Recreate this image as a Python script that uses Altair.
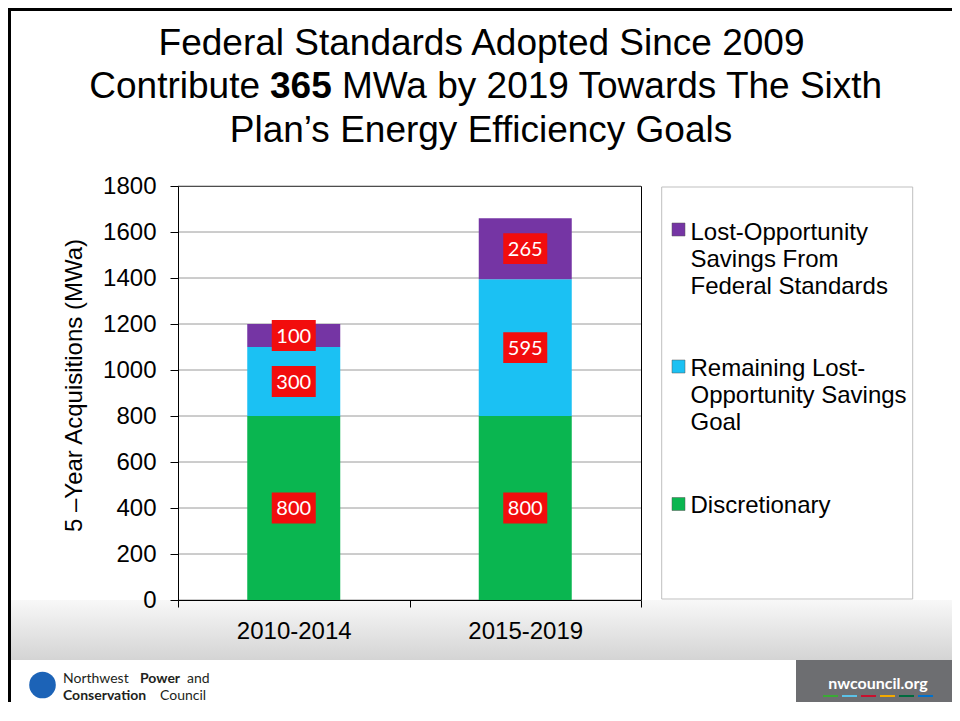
import altair as alt
import pandas as pd

# ---------------- data ----------------
PERIODS = ["2010-2014", "2015-2019"]
SERIES = [
    "Discretionary",
    "Remaining Lost-Opportunity Savings Goal",
    "Lost-Opportunity Savings From Federal Standards",
]
DISCRETIONARY = [800, 800]
REMAINING_LOST_OPP = [300, 595]
FEDERAL_STANDARDS = [100, 265]
SERIES_COLORS = ["#0ab650", "#1bc1f3", "#7535a4"]
Y_TICKS = list(range(0, 1801, 200))

# legend entries, top to bottom (series index, label lines)
LEGEND_ENTRIES = [
    (2, ["Lost-Opportunity", "Savings From", "Federal Standards"]),
    (1, ["Remaining Lost-", "Opportunity Savings", "Goal"]),
    (0, ["Discretionary"]),
]

TITLE_LINE1 = "Federal Standards Adopted Since 2009"
TITLE_LINE2 = ["Contribute", "365", "MWa by 2019 Towards The Sixth"]
TITLE_LINE3 = "Plan\u2019s Energy Efficiency Goals"
Y_TITLE = "5 \u2013Year  Acquisitions (MWa)"

FOOTER_DASH_COLORS = ["#3aaa35", "#5bc2e7", "#c8102e", "#f2a900", "#006b3f", "#0072ce"]

rows = []
for i, p in enumerate(PERIODS):
    for k, vals in enumerate([DISCRETIONARY, REMAINING_LOST_OPP, FEDERAL_STANDARDS]):
        rows.append({"period": p, "series": SERIES[k], "value": vals[i], "order": k})
df = pd.DataFrame(rows)
grid_df = pd.DataFrame({"tick": Y_TICKS})

AX_FONT = "Liberation Sans"
W, H = 463, 414
RIGHT = 774    # right edge of the whole canvas (relative to plot origin)
BOTTOM = 516   # bottom edge of the whole canvas (relative to plot origin)

# ---------------- helpers for decoration ----------------
one = pd.DataFrame({"k": [0]})


def rect(x, x2, y, y2, **kw):
    return alt.Chart(one).mark_rect(**kw).encode(
        x=alt.value(x), x2=alt.value(x2), y=alt.value(y), y2=alt.value(y2)
    )


def text(x, y, t, **kw):
    return alt.Chart(one).mark_text(**kw).encode(
        x=alt.value(x), y=alt.value(y), text=alt.value(t)
    )


# ---------------- main bars ----------------
x_enc = alt.X(
    "period:N",
    sort=PERIODS,
    scale=alt.Scale(paddingInner=0, paddingOuter=0),
    axis=alt.Axis(
        title=None,
        labelAngle=0,
        labelFont=AX_FONT,
        labelFontSize=24,
        labelColor="black",
        labelPadding=12,
        tickColor="black",
        tickSize=7,
        tickBand="extent",
        domainColor="black",
        grid=False,
        zindex=1,
    ),
)
y_scale = alt.Scale(domain=[0, 1800], nice=False)
y_axis = alt.Axis(
    values=Y_TICKS,
    format="d",
    labelFont=AX_FONT,
    labelFontSize=24,
    labelColor="black",
    labelPadding=14,
    tickColor="black",
    tickSize=8,
    domainColor="black",
    grid=False,
    zindex=1,
    titleFont=AX_FONT,
    titleFontSize=24,
    titleFontWeight="normal",
    titleColor="black",
    titleAngle=270,
    titleBaseline="bottom",
    titleAlign="center",
    titleX=-92,
    titleY=199,
)

gridlines = alt.Chart(grid_df).mark_rule(color="#9a9a9a", strokeWidth=1).encode(
    y=alt.Y("tick:Q", scale=y_scale, axis=y_axis, title=Y_TITLE)
)

bars = alt.Chart(df).mark_bar(size=93).encode(
    x=x_enc,
    y=alt.Y("value:Q", stack="zero", scale=y_scale, axis=y_axis, title=Y_TITLE),
    color=alt.Color(
        "series:N", scale=alt.Scale(domain=SERIES, range=SERIES_COLORS), legend=None
    ),
    order=alt.Order("order:Q", sort="ascending"),
)

lab_base = (
    alt.Chart(df)
    .transform_stack(
        stack="value",
        groupby=["period"],
        sort=[alt.SortField("order", "ascending")],
        as_=["v0", "v1"],
    )
    .transform_calculate(mid="(datum.v0 + datum.v1) / 2")
)
boxes = lab_base.mark_point(
    shape="M-1,-0.7L1,-0.7L1,0.7L-1,0.7Z",
    size=1936,
    filled=True,
    color="#f20d0d",
    opacity=1,
    strokeWidth=0,
).encode(
    x=alt.X("period:N", sort=PERIODS),
    y=alt.Y("mid:Q", title=Y_TITLE),
)
box_text = lab_base.mark_text(
    font="Lato", fontSize=20, color="white", baseline="middle", align="center", dy=1
).encode(
    x=alt.X("period:N", sort=PERIODS),
    y=alt.Y("mid:Q", title=Y_TITLE),
    text=alt.Text("value:Q"),
)

# ---------------- decorations ----------------
layers = []
# footer gradient band
layers.append(
    rect(
        -170, RIGHT, 414, 474,
        color=alt.Gradient(
            gradient="linear",
            stops=[
                alt.GradientStop(color="#f8f8f8", offset=0),
                alt.GradientStop(color="#d4d4d4", offset=1),
            ],
            x1=0, x2=0, y1=0, y2=1,
        ),
    )
)
# slide frame
layers.append(rect(-170, -167, -178, BOTTOM, color="black"))
layers.append(rect(-170, RIGHT, -178, -175, color="black"))
# footer right box
layers.append(rect(618, RIGHT, 474, BOTTOM, color="#6d6e71"))
layers.append(
    text(700, 503, "nwcouncil.org", font="Lato", fontSize=16, fontWeight="bold",
         color="white", align="center", baseline="alphabetic")
)
for j, c in enumerate(FOOTER_DASH_COLORS):
    layers.append(rect(645 + 19 * j, 660 + 19 * j, 509, 511, color=c))
# footer logo
layers.append(
    alt.Chart(one).mark_point(shape="circle", size=707, filled=True, color="#1c63b7", opacity=1)
    .encode(x=alt.value(-135.5), y=alt.value(499))
)
for (x, y, t, wt) in [
    (-115, 497, "Northwest", "normal"),
    (-38, 497, "Power", "bold"),
    (9, 497, "and", "normal"),
    (-115, 514, "Conservation", "bold"),
    (-18, 514, "Council", "normal"),
]:
    layers.append(
        text(x, y, t, font="Lato", fontSize=14, fontWeight=wt, color="#231f20",
             align="left", baseline="alphabetic")
    )

# chart
layers += [gridlines, bars, boxes, box_text]

# legend box
layers.append(rect(483.7, 734.7, 1, 413, fill="white", stroke="#bfbfbf", strokeWidth=1))
LEG_SQ_Y = [37, 174, 311.5]
LEG_TX_Y = [35, 171, 307.7]
for (si, lines), sy, ty in zip(LEGEND_ENTRIES, LEG_SQ_Y, LEG_TX_Y):
    layers.append(rect(494, 507, sy, sy + 13, fill=SERIES_COLORS[si], stroke="#555555", strokeWidth=0.5))
    layers.append(
        text(512.5, ty, lines, font=AX_FONT, fontSize=24, color="black",
             align="left", baseline="top", lineHeight=27)
    )

# title
TFONT = "Liberation Sans"
layers.append(text(303.5, -131, TITLE_LINE1, font=TFONT, fontSize=37, color="black",
                   align="center", baseline="alphabetic"))
layers.append(text(82, -88, TITLE_LINE2[0], font=TFONT, fontSize=37, color="black",
                   align="right", baseline="alphabetic"))
layers.append(text(92, -88, TITLE_LINE2[1], font=TFONT, fontSize=37, fontWeight="bold",
                   color="black", align="left", baseline="alphabetic"))
layers.append(text(164, -88, TITLE_LINE2[2], font=TFONT, fontSize=37, color="black",
                   align="left", baseline="alphabetic"))
layers.append(text(303, -44, TITLE_LINE3, font=TFONT, fontSize=37, color="black",
                   align="center", baseline="alphabetic"))

chart = (
    alt.layer(*layers)
    .properties(width=W, height=H, padding=0)
    .configure_view(stroke="black", strokeWidth=1)
)

chart.save("out.html", embed_options={"renderer": "svg", "actions": False})
